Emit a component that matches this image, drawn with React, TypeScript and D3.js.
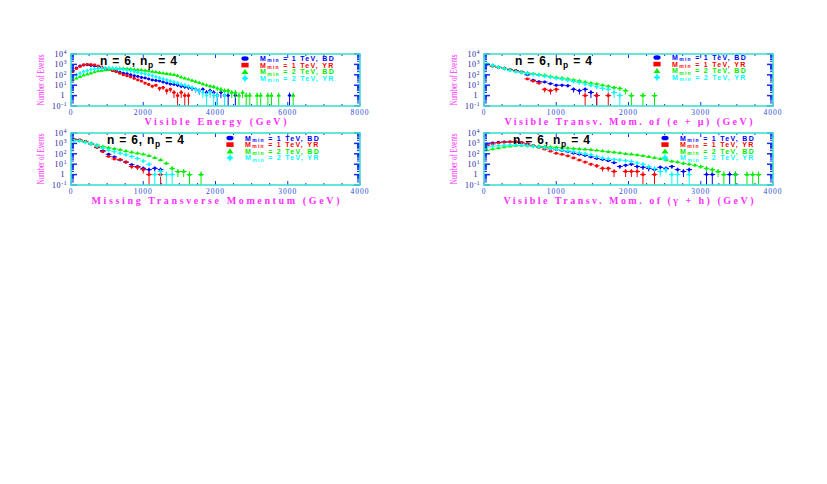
import * as d3 from 'd3';

// ---- data: event counts per bin ----
// Visible energy, 100 GeV bins
const visEBin = 100;
const visE_1BD = [250, 450, 700, 890, 900, 800, 700, 630, 500, 400, 316, 280, 224, 180, 140, 126, 100, 80, 70, 56, 50, 40, 32, 28, 25, 20, 16, 13, 12, 10, 8, 7, 6, 5, 4, 3, 4, 2, 3, 2, 1, 2, 1, 1, 0, 1, 0, 0, 0, 0, 0, 0, 0, 0, 0, 0, 0, 0, 0, 0, 1];
const visE_1YR = [200, 400, 630, 890, 1000, 980, 900, 710, 560, 400, 320, 250, 200, 140, 100, 80, 63, 45, 32, 25, 16, 12, 8, 10, 5, 6, 3, 4, 2, 1, 2, 1, 1];
const visE_2BD = [32, 45, 63, 90, 112, 140, 178, 224, 250, 280, 316, 355, 380, 400, 400, 380, 355, 316, 300, 280, 250, 224, 200, 178, 158, 140, 126, 112, 100, 80, 56, 45, 36, 28, 22, 17, 13, 10, 8, 7, 5, 4, 3, 3, 2, 2, 1, 2, 1, 1, 0, 1, 1, 0, 1, 1, 0, 1, 0, 0, 0, 1];
const visE_2YR = [63, 100, 140, 200, 250, 316, 355, 400, 430, 450, 450, 430, 400, 355, 316, 280, 250, 200, 178, 140, 126, 100, 80, 63, 50, 40, 32, 25, 20, 16, 12, 10, 8, 6, 4, 3, 2, 1, 2, 1, 1, 0, 1];

// Visible transverse momentum of (e + mu), 80 GeV bins
const lepBin = 80;
const lep_1BD = [1000, 720, 520, 420, 330, 260, 190, 100, 30, 22, 20, 14, 10, 10, 9, 4, 3, 4, 2, 1];
const lep_1YR = [1000, 700, 500, 400, 320, 250, 180, 40, 25, 16, 4, 3, 4, 0, 0, 0, 0, 1, 0, 1, 0, 1];
const lep_2BD = [1050, 800, 560, 400, 280, 210, 178, 150, 126, 105, 90, 70, 56, 48, 40, 32, 26, 20, 16, 13, 10, 8, 6, 5, 3, 1, 0, 1, 0, 1];
const lep_2YR = [1050, 790, 550, 390, 270, 200, 165, 135, 110, 90, 72, 58, 46, 38, 30, 23, 18, 13, 10, 7, 5, 4, 2, 1];

// Missing transverse momentum, 80 GeV bins
const misBin = 80;
const mis_1BD = [2500, 2000, 1400, 900, 450, 200, 90, 50, 25, 16, 9, 6, 4, 3, 4, 3];
const mis_1YR = [2500, 2200, 1600, 900, 400, 160, 56, 32, 28, 16, 6, 5, 3, 1, 0, 1];
const mis_2BD = [2000, 1800, 1400, 1000, 700, 500, 380, 300, 240, 178, 140, 112, 90, 63, 40, 25, 12, 4, 2, 2, 1, 0, 1];
const mis_2YR = [2000, 1800, 1250, 900, 560, 350, 224, 160, 112, 80, 56, 35, 20, 10, 1, 2, 1, 1];

// Visible transverse momentum of (gamma + h), 80 GeV bins
const hadBin = 80;
const had_1BD = [890, 1120, 1260, 1400, 1400, 1350, 1120, 890, 630, 500, 400, 316, 250, 200, 158, 112, 89, 70, 50, 35, 28, 22, 14, 6, 8, 10, 6, 5, 4, 3, 5, 4, 6, 3, 2, 3, 0, 0, 1, 1, 0, 0, 1, 1];
const had_1YR = [630, 890, 1120, 1300, 1400, 1400, 1260, 890, 630, 400, 280, 178, 112, 89, 63, 40, 25, 16, 10, 7, 4, 4, 2, 0, 2, 2, 2, 1, 0, 1];
const had_2BD = [224, 280, 355, 450, 525, 600, 630, 600, 560, 525, 480, 450, 420, 380, 355, 316, 290, 263, 240, 210, 180, 158, 141, 120, 100, 89, 76, 63, 50, 40, 32, 25, 19, 16, 12, 10, 8, 6, 4, 3, 2, 1, 0, 1, 0, 1, 1, 1];
const had_2YR = [450, 525, 600, 660, 700, 700, 660, 600, 525, 450, 380, 316, 263, 224, 190, 158, 126, 100, 80, 56, 40, 33, 28, 25, 22, 18, 13, 10, 6, 4, 2, 3, 1, 1, 0, 1];

const xTicks8000 = [0, 2000, 4000, 6000, 8000];
const xTicks4000 = [0, 1000, 2000, 3000, 4000];
const yDecades = [-1, 0, 1, 2, 3, 4];

const COLORS = ['#0000ff', '#ff0000', '#00ee00', '#00ffff'];
const LEGEND = [
  ['1', 'BD'],
  ['1', 'YR'],
  ['2', 'BD'],
  ['2', 'YR'],
];
const SYMBOLS = [d3.symbolCircle, d3.symbolSquare, d3.symbolTriangle, d3.symbolDiamond];

const PW = 289;
const PH = 52;
const FRAME = '#40e0d0';
const TICK = '#1030f0';
const MAGENTA = '#ff30ff';

function LegendSymbol({ i, cx, cy }) {
  const c = COLORS[i];
  if (i === 0) return <ellipse cx={cx} cy={cy} rx={3.6} ry={2.3} fill={c} />;
  if (i === 1) return <rect x={cx - 3.6} y={cy - 2.3} width={7.2} height={4.6} fill={c} />;
  if (i === 2) return <path d={`M${cx - 3.5},${cy + 2.4}L${cx + 3.5},${cy + 2.4}L${cx},${cy - 2.8}Z`} fill={c} />;
  return (
    <g>
      <path d={`M${cx - 3.5},${cy}L${cx},${cy - 2.6}L${cx + 3.5},${cy}L${cx},${cy + 2.6}Z`} fill={c} />
      <line x1={cx} x2={cx} y1={cy - 3.6} y2={cy + 3.6} stroke={c} />
    </g>
  );
}

function Panel({ id, left, top, xMax, xTicks, bin, series, title, titleW, legX, legY, nX, nY }) {
  const x = d3.scaleLinear().domain([0, xMax]).range([left, left + PW]);
  const y = d3.scaleLog().domain([0.1, 1e4]).range([top + PH, top]);
  const yc = (v) => (v <= 0.1 ? top + PH + 2 : y(v));
  const minorStep = xTicks[1] / 4;
  const xMinor = d3.range(0, xMax + 1, minorStep);
  const yMinor = [];
  yDecades.slice(0, -1).forEach((d) => {
    for (let k = 2; k <= 9; k++) yMinor.push(k * Math.pow(10, d));
  });
  const right = left + PW;
  const bottom = top + PH;

  return (
    <g>
      <clipPath id={`clip-${id}`}>
        <rect x={left} y={top} width={PW} height={PH} />
      </clipPath>
      <g clipPath={`url(#clip-${id})`}>
        {series.map((counts, s) => (
          <g key={s} stroke={COLORS[s]} fill={COLORS[s]} strokeWidth={1}>
            {counts.map((n, i) => {
              if (n <= 0) return null;
              const cx = x((i + 0.5) * bin);
              const cy = y(n);
              const e = Math.sqrt(n);
              return (
                <g key={i}>
                  <line x1={cx} x2={cx} y1={yc(n - e)} y2={y(n + e)} />
                  <line x1={x(i * bin)} x2={x((i + 1) * bin)} y1={cy} y2={cy} />
                  <path transform={`translate(${cx},${cy})`} d={d3.symbol().type(SYMBOLS[s]).size(7)()} stroke="none" />
                </g>
              );
            })}
          </g>
        ))}
      </g>

      {/* ticks */}
      <g stroke={TICK} strokeWidth={1}>
        {xMinor.map((v, i) => {
          const major = i % 4 === 0;
          const len = major ? 4 : 2;
          return (
            <g key={v}>
              <line x1={x(v)} x2={x(v)} y1={bottom} y2={bottom - len} />
              <line x1={x(v)} x2={x(v)} y1={top} y2={top + len} />
            </g>
          );
        })}
        {yDecades.map((d) => (
          <g key={d}>
            <line x1={left} x2={left + 6} y1={y(Math.pow(10, d))} y2={y(Math.pow(10, d))} strokeWidth={1.5} />
            <line x1={right} x2={right - 6} y1={y(Math.pow(10, d))} y2={y(Math.pow(10, d))} strokeWidth={1.5} />
          </g>
        ))}
        {yMinor.map((v) => (
          <g key={v}>
            <line x1={left} x2={left + 3} y1={y(v)} y2={y(v)} />
            <line x1={right} x2={right - 3} y1={y(v)} y2={y(v)} />
          </g>
        ))}
      </g>

      <rect x={left} y={top} width={PW} height={PH} fill="none" stroke={FRAME} strokeWidth={1.6} />

      {/* y tick labels */}
      <g fill="#1a1a9a" fontFamily="Liberation Serif" fontSize={8} textAnchor="end" letterSpacing={0.6}>
        {yDecades.map((d) =>
          d === 0 ? (
            <text key={d} x={left - 6} y={y(1) + 2.8}>1</text>
          ) : (
            <text key={d} x={left - 4} y={y(Math.pow(10, d)) + 2.8}>
              10
              <tspan fontSize={5.5} dy={-3}>{d}</tspan>
            </text>
          )
        )}
      </g>
      <text
        transform={`translate(${left - 27},${top + PH / 2}) rotate(-90)`}
        textAnchor="middle"
        fill={MAGENTA}
        fontFamily="Liberation Serif"
        fontSize={11}
        textLength={51}
        lengthAdjust="spacingAndGlyphs"
      >
        Number of Events
      </text>

      {/* x tick labels */}
      <g fill="#2a4ad8" fontFamily="Liberation Serif" fontSize={7.5} textAnchor="middle" letterSpacing={1}>
        {xTicks.map((v) => (
          <text key={v} x={x(v)} y={bottom + 8.5}>{v}</text>
        ))}
      </g>
      <text
        x={left + PW / 2}
        y={bottom + 18.5}
        textAnchor="middle"
        fill={MAGENTA}
        fontFamily="Liberation Serif"
        fontWeight="bold"
        fontSize={10}
        textLength={titleW}
        lengthAdjust="spacing"
      >
        {title}
      </text>

      {/* n label */}
      <text x={nX} y={nY} fontFamily="Liberation Sans" fontWeight="bold" fontSize={12} letterSpacing={0.8} fill="#000">
        n = 6, n
        <tspan fontSize={8.5} dy={2.5}>p</tspan>
        <tspan dy={-2.5}> = 4</tspan>
      </text>

      {/* legend */}
      {LEGEND.map(([m, kind], i) => {
        const ly = legY + i * 6.6;
        return (
          <g key={i}>
            <LegendSymbol i={i} cx={legX} cy={ly} />
            <text x={legX + 15} y={ly + 2.5} fill={COLORS[i]} fontFamily="Liberation Sans" fontWeight="bold" fontSize={7} letterSpacing={1.3}>
              M
              <tspan fontSize={5} dy={1.3}>min</tspan>
              <tspan dy={-1.3}>{` = ${m} TeV, ${kind}`}</tspan>
            </text>
          </g>
        );
      })}
    </g>
  );
}

export default function App() {
  return (
    <svg width={827} height={484} style={{ position: 'absolute', left: 0, top: 0, background: '#fff' }}>
      <Panel
        id="ve"
        left={71}
        top={54}
        xMax={8000}
        xTicks={xTicks8000}
        bin={visEBin}
        series={[visE_1BD, visE_1YR, visE_2BD, visE_2YR]}
        title="Visible Energy (GeV)"
        titleW={142}
        legX={245}
        legY={58.5}
        nX={100}
        nY={65}
      />
      <Panel
        id="lep"
        left={484}
        top={54}
        xMax={4000}
        xTicks={xTicks4000}
        bin={lepBin}
        series={[lep_1BD, lep_1YR, lep_2BD, lep_2YR]}
        title="Visible Transv. Mom. of (e + μ) (GeV)"
        titleW={248}
        legX={657}
        legY={57.5}
        nX={515}
        nY={65}
      />
      <Panel
        id="mis"
        left={71}
        top={133}
        xMax={4000}
        xTicks={xTicks4000}
        bin={misBin}
        series={[mis_1BD, mis_1YR, mis_2BD, mis_2YR]}
        title="Missing Transverse Momentum (GeV)"
        titleW={248}
        legX={230}
        legY={138}
        nX={107}
        nY={144}
      />
      <Panel
        id="had"
        left={484}
        top={133}
        xMax={4000}
        xTicks={xTicks4000}
        bin={hadBin}
        series={[had_1BD, had_1YR, had_2BD, had_2YR]}
        title="Visible Transv. Mom. of (γ + h) (GeV)"
        titleW={250}
        legX={665}
        legY={138}
        nX={513}
        nY={144}
      />
    </svg>
  );
}
